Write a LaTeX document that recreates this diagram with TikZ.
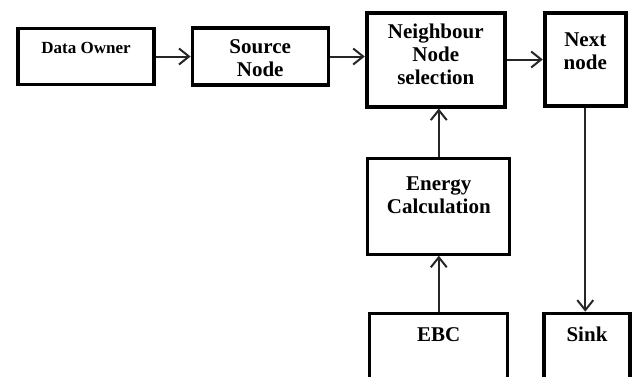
\documentclass[tikz,border=0pt]{standalone}
\usepackage{fontspec}
\setmainfont{Liberation Serif}
\usetikzlibrary{arrows.meta,positioning}

% box content: width, height, first baseline, text
\newcommand{\blocktext}[4]{\parbox[c][#2][t]{#1}{\centering\rule{0pt}{#3}#4}}

\begin{document}
\begin{tikzpicture}[
    x=0.5pt, y=-0.5pt,
    >={Straight Barb[length=5pt,width=8pt]},
    font=\bfseries\fontsize{10.5}{11.5}\selectfont,
    block/.style={
		rectangle,
		draw=black,
		line width=1.6pt,
		inner sep=0pt,
		fill=white
	},
	heavy block/.style={
		block,
		line width=2pt
	},
	link/.style={
		->,
		line width=1pt,
		draw=black!85
	}
  ]
  \useasboundingbox (0,0) rectangle (644,376);
  \clip (0,0) rectangle (644,376);
    % We start by placing the blocks

  \node [block] (owner) at (86,56.5)
  {\blocktext{68pt}{28pt}{12.5pt}{\fontsize{8.5}{10}\selectfont Data Owner}};

  \node [block, right=17.5pt of owner] (source)
  {\blocktext{68pt}{28.5pt}{12.5pt}{Source\\Node}};

  \node [heavy block, right=17.5pt of source, yshift=-1.5pt] (neighbour)
  {\blocktext{69pt}{47pt}{13pt}{Neighbour\\Node\\selection}};

  \node [heavy block, right=18pt of neighbour] (next)
  {\blocktext{40.5pt}{46.5pt}{16.5pt}{Next\\node}};

  \node [block, below=24pt of neighbour, xshift=1.5pt] (energy)
  {\blocktext{71pt}{48pt}{16pt}{Energy\\Calculation}};

  \node [block, below=28pt of energy] (ebc)
  {\blocktext{69pt}{45pt}{14pt}{EBC}};

  \node [block, right=16.5pt of ebc] (sink)
  {\blocktext{43pt}{45pt}{14pt}{Sink}};

 \draw [link] (owner) -- (owner -| source.west);
 \draw [link] (source) -- (source -| neighbour.west);
 \draw [link] (neighbour) -- (next);
 \draw [link] (energy) -- (energy |- neighbour.south);
 \draw [link] (ebc) -- (energy);
 \draw [link] (next) -- (next |- sink.north);

\end{tikzpicture}
\end{document}
